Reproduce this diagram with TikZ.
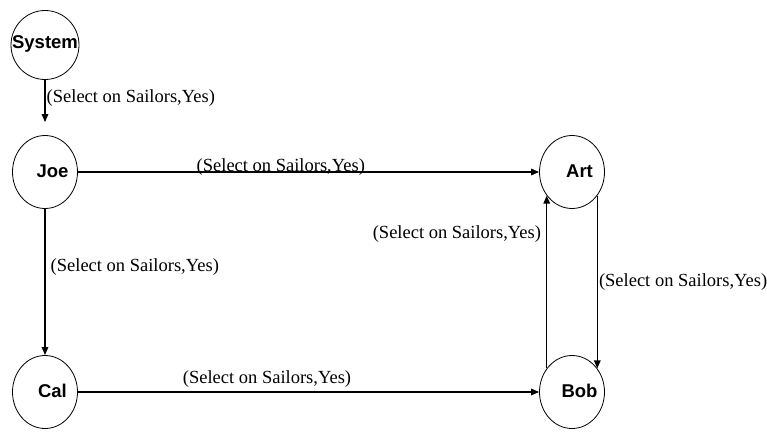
\documentclass[tikz,border=0pt]{standalone}
\usepackage{fontspec}
\setmainfont{Liberation Serif}
\setsansfont{Liberation Sans}
\usepackage{xcolor}
\usepackage{tikz}
\usetikzlibrary{positioning,shapes.geometric,arrows.meta}

\tikzset{
  state/.style={ellipse, draw=black, line width=0.8pt, minimum width=65pt, minimum height=73pt, inner sep=0pt, on grid},
  statename/.style={font=\fontsize{18.5}{22}\sffamily\bfseries\selectfont, xshift=7.5pt, yshift=1pt},
  edgelabel/.style={font=\fontsize{18.5}{22}\rmfamily\selectfont, inner sep=1pt},
}

\begin{document}
\begin{tikzpicture}[x=1pt, y=-1pt, line width=1.4pt, >={Triangle[length=8pt,width=6.5pt]}]
\useasboundingbox (0,0) rectangle (767,431);
\node (system) [state, minimum width=68pt, minimum height=69pt, label={[statename, xshift=-7.5pt]center:System}] at (45,45) {};
\node (joe) [state, below=127pt of system, label={[statename]center:Joe}] {};
\node (cal) [state, below=220pt of joe, label={[statename]center:Cal}] {};
\node (art) [state, right=527pt of joe, label={[statename]center:Art}] {};
\node (bob) [state, right=527pt of cal, label={[statename]center:Bob}] {};

\draw[->, shorten >=13pt] (system) -- node[edgelabel, right, pos=0.33] {(Select on Sailors,Yes)} (joe);
\draw[->] (joe) -- node[edgelabel, pos=0.44, yshift=5pt] {(Select on Sailors,Yes)} (art);
\draw[->] (joe) -- node[edgelabel, right=4pt, pos=0.4] {(Select on Sailors,Yes)} (cal);
\draw[->] (cal) -- node[edgelabel, above=3pt, pos=0.41] {(Select on Sailors,Yes)} (bob);
\draw[->] (bob.137) -- node[edgelabel, left=4pt, pos=0.78] {(Select on Sailors,Yes)} (art.223);
\draw[->] (art.317) -- node[edgelabel, right, midway] {(Select on Sailors,Yes)} (bob.43);
\end{tikzpicture}
\end{document}
